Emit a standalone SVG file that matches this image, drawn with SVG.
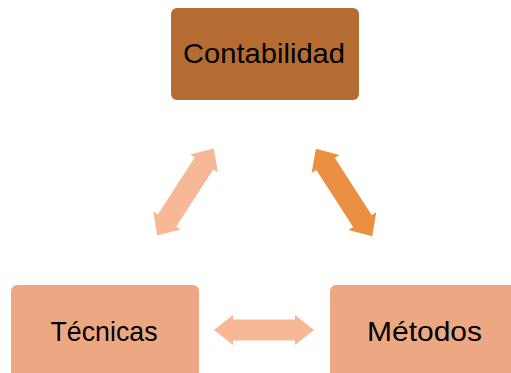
<svg xmlns="http://www.w3.org/2000/svg" width="511" height="373" viewBox="0 0 511 373">
<style>
.lbl{font-family:"Liberation Sans",Arial,sans-serif;font-size:28px;fill:#000;text-anchor:middle}
.light{fill:#F6B896}
.dark{fill:#EB8F43}
</style>
<defs>
<polygon id="arr" points="-52,0 -34,-16.5 -34,-11 34,-11 34,-16.5 52,0 34,16.5 34,11 -34,11 -34,16.5"/>
<polygon id="arrh" points="-50,0 -31,-15 -31,-10.5 31,-10.5 31,-15 50,0 31,15 31,10.5 -31,10.5 -31,15"/>
</defs>
<rect width="511" height="373" fill="#fff"/>
<g id="connectors">
<use href="#arr" class="light" transform="translate(185.5,192) rotate(-57)"/>
<use href="#arr" class="dark" transform="translate(344,192.5) rotate(57.2)"/>
<use href="#arrh" class="light" transform="translate(264,330)"/>
</g>
<g id="contabilidad">
<rect x="171" y="8" width="188" height="92" rx="6" fill="#B56C33"/>
<text class="lbl" x="264" y="63" textLength="162" lengthAdjust="spacingAndGlyphs">Contabilidad</text>
</g>
<g id="tecnicas">
<rect x="11" y="285" width="188" height="100" rx="6" fill="#EDA883"/>
<text class="lbl" x="104" y="341" textLength="107" lengthAdjust="spacingAndGlyphs">Técnicas</text>
</g>
<g id="metodos">
<rect x="330" y="285" width="188" height="100" rx="6" fill="#EDA883"/>
<text class="lbl" x="424.5" y="341" textLength="115" lengthAdjust="spacingAndGlyphs">Métodos</text>
</g>
</svg>
